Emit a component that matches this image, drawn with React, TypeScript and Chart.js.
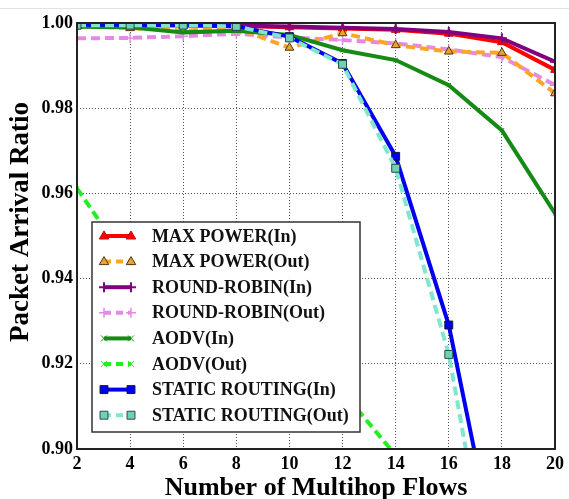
import React, { useEffect, useRef } from 'react';
import { Chart, registerables } from 'chart.js';

Chart.register(...registerables);

// ---------- data ----------
const flows = [2, 4, 6, 8, 10, 12, 14, 16, 18, 20];
const maxPowerIn = [0.9996, 0.9995, 0.9994, 0.9993, 0.999, 0.9987, 0.9984, 0.9975, 0.9955, 0.989];
const maxPowerOut = [0.9992, 0.9988, 0.9982, 0.9988, 0.9942, 0.9976, 0.9948, 0.9933, 0.993, 0.9835];
const roundRobinIn = [0.9997, 0.9996, 0.9995, 0.9994, 0.9992, 0.9989, 0.9986, 0.9979, 0.9964, 0.9909];
const roundRobinOut = [0.9964, 0.9965, 0.9969, 0.9975, 0.9966, 0.996, 0.9952, 0.9938, 0.992, 0.9854];
const aodvIn = [0.9991, 0.999, 0.9978, 0.9982, 0.9972, 0.9936, 0.9913, 0.9854, 0.9748, 0.9553];
const aodvOut = [0.9612, 0.943, 0.935, 0.927, 0.92, 0.9135, 0.8985, 0.88, 0.86, 0.84];
const staticIn = [0.9996, 0.9996, 0.9996, 0.9992, 0.9968, 0.9905, 0.9687, 0.9291, 0.868, 0.82];
const staticOut = [0.9995, 0.9995, 0.9995, 0.9992, 0.9965, 0.9903, 0.9659, 0.9222, 0.853, 0.8];

const seriesNames = [
  'MAX POWER(In)',
  'MAX POWER(Out)',
  'ROUND-ROBIN(In)',
  'ROUND-ROBIN(Out)',
  'AODV(In)',
  'AODV(Out)',
  'STATIC ROUTING(In)',
  'STATIC ROUTING(Out)',
];
const seriesValues = [maxPowerIn, maxPowerOut, roundRobinIn, roundRobinOut, aodvIn, aodvOut, staticIn, staticOut];

const xTitle = 'Number of Multihop Flows';
const yTitle = 'Packet Arrival Ratio';
const yMin = 0.9;
const yMax = 1.0;
const yStep = 0.02;
const xMin = 2;
const xMax = 20;
const xStep = 2;

// ---------- styles ----------
type Sty = {
  color: string;
  dash: number[];
  marker: 'triangle' | 'cross' | 'crossRot' | 'rect';
  radius: number;
  fill: string;
  stroke: string;
  mbw: number;
  order: number;
};
const styles: Sty[] = [
  { color: '#ff0000', dash: [], marker: 'triangle', radius: 5, fill: '#ff0000', stroke: '#cc0000', mbw: 1, order: 8 },
  { color: '#ffa526', dash: [9, 5], marker: 'triangle', radius: 5, fill: '#f0a030', stroke: '#4a3a10', mbw: 1, order: 5 },
  { color: '#800080', dash: [], marker: 'cross', radius: 5, fill: '#800080', stroke: '#800080', mbw: 2, order: 7 },
  { color: '#e48ae4', dash: [9, 5], marker: 'cross', radius: 5, fill: '#e48ae4', stroke: '#e48ae4', mbw: 1.5, order: 6 },
  { color: '#158a15', dash: [], marker: 'crossRot', radius: 3, fill: '#158a15', stroke: '#158a15', mbw: 1, order: 4 },
  { color: '#22ee22', dash: [9, 5], marker: 'crossRot', radius: 3, fill: '#22ee22', stroke: '#22ee22', mbw: 1, order: 3 },
  { color: '#0000ee', dash: [], marker: 'rect', radius: 5.6, fill: '#0000ee', stroke: '#101840', mbw: 1, order: 2 },
  { color: '#80e6d0', dash: [9, 5], marker: 'rect', radius: 5.6, fill: '#6fd2b8', stroke: '#2c4a46', mbw: 1, order: 1 },
];

const FONT = '"Liberation Serif", "Times New Roman", serif';

function drawMarker(ctx: CanvasRenderingContext2D, s: Sty, x: number, y: number) {
  ctx.save();
  ctx.setLineDash([]);
  ctx.fillStyle = s.fill;
  ctx.strokeStyle = s.stroke;
  ctx.lineWidth = s.mbw;
  const r = s.radius;
  ctx.beginPath();
  if (s.marker === 'triangle') {
    ctx.moveTo(x, y - r);
    ctx.lineTo(x + r * 0.95, y + r * 0.6);
    ctx.lineTo(x - r * 0.95, y + r * 0.6);
    ctx.closePath();
    ctx.fill();
    ctx.stroke();
  } else if (s.marker === 'rect') {
    const h = r * Math.SQRT1_2;
    ctx.rect(x - h, y - h, 2 * h, 2 * h);
    ctx.fill();
    ctx.stroke();
  } else if (s.marker === 'cross') {
    ctx.moveTo(x - r, y);
    ctx.lineTo(x + r, y);
    ctx.moveTo(x, y - r);
    ctx.lineTo(x, y + r);
    ctx.stroke();
  } else {
    ctx.moveTo(x - r, y - r);
    ctx.lineTo(x + r, y + r);
    ctx.moveTo(x + r, y - r);
    ctx.lineTo(x - r, y + r);
    ctx.stroke();
  }
  ctx.restore();
}

const framePlugin = {
  id: 'frame',
  afterDatasetsDraw(chart: any) {
    const { ctx, chartArea: a } = chart;
    ctx.save();
    ctx.strokeStyle = '#222';
    ctx.lineWidth = 2;
    ctx.setLineDash([]);
    ctx.strokeRect(a.left, a.top, a.right - a.left, a.bottom - a.top);
    ctx.restore();
  },
  afterDraw(chart: any) {
    const { ctx, chartArea: a } = chart;
    ctx.save();
    // faint top rule
    ctx.strokeStyle = '#e2e2e2';
    ctx.lineWidth = 1;
    ctx.beginPath();
    ctx.moveTo(0, 8.5);
    ctx.lineTo(chart.width, 8.5);
    ctx.stroke();

    // axis titles
    ctx.fillStyle = '#000';
    ctx.textAlign = 'center';
    ctx.textBaseline = 'middle';
    ctx.font = `bold 26px ${FONT}`;
    ctx.fillText(xTitle, (a.left + a.right) / 2, 488);
    ctx.save();
    ctx.translate(21, 222);
    ctx.rotate(-Math.PI / 2);
    ctx.font = `bold 27px ${FONT}`;
    ctx.fillText(yTitle, 0, 0);
    ctx.restore();

    // legend
    const bx = 92, by = 222, bw = 268, bh = 210;
    ctx.fillStyle = '#fff';
    ctx.fillRect(bx, by, bw, bh);
    ctx.strokeStyle = '#333';
    ctx.lineWidth = 1.5;
    ctx.strokeRect(bx, by, bw, bh);
    const x0 = 104, x1 = 131, tx = 152;
    seriesNames.forEach((name, i) => {
      const s = styles[i];
      const y = 236 + i * 25.6;
      ctx.save();
      ctx.strokeStyle = s.color;
      ctx.lineWidth = 4;
      ctx.setLineDash(s.dash.length ? [7, 5] : []);
      ctx.beginPath();
      ctx.moveTo(x0, y);
      ctx.lineTo(x1, y);
      ctx.stroke();
      ctx.restore();
      drawMarker(ctx, s, x0, y);
      drawMarker(ctx, s, x1, y);
      ctx.fillStyle = '#111';
      ctx.textAlign = 'left';
      ctx.textBaseline = 'middle';
      ctx.font = `bold 18px ${FONT}`;
      ctx.fillText(name, tx, y + 1);
    });
    ctx.restore();
  },
};

export default function App() {
  const ref = useRef<HTMLCanvasElement | null>(null);
  useEffect(() => {
    if (!ref.current) return;
    const datasets = seriesNames.map((name, i) => {
      const s = styles[i];
      return {
        label: name,
        data: flows.map((x, j) => ({ x, y: seriesValues[i][j] })),
        borderColor: s.color,
        backgroundColor: s.color,
        borderWidth: 4,
        borderDash: s.dash,
        tension: 0,
        fill: false,
        order: s.order,
        pointStyle: s.marker,
        pointRadius: s.radius,
        pointBackgroundColor: s.fill,
        pointBorderColor: s.stroke,
        pointBorderWidth: s.mbw,
        clip: 0,
      };
    });
    const chart = new Chart(ref.current, {
      type: 'line',
      data: { datasets },
      options: {
        animation: false,
        responsive: false,
        maintainAspectRatio: false,
        layout: { padding: { top: 23, right: 9, bottom: 0, left: 0 } },
        plugins: { legend: { display: false }, tooltip: { enabled: false }, title: { display: false } },
        scales: {
          x: {
            type: 'linear',
            min: xMin,
            max: xMax,
            ticks: {
              stepSize: xStep,
              color: '#000',
              padding: 5,
              font: { family: FONT, size: 18, weight: 'bold' },
            },
            grid: { color: '#555', lineWidth: 1, drawTicks: false },
            border: { display: false, dash: [1, 2] },
            afterFit: (scale: any) => {
              scale.height = 50;
            },
          },
          y: {
            type: 'linear',
            min: yMin,
            max: yMax,
            ticks: {
              stepSize: yStep,
              color: '#000',
              padding: 4,
              font: { family: FONT, size: 18, weight: 'bold' },
              callback: (v: any) => Number(v).toFixed(2),
            },
            grid: { color: '#555', lineWidth: 1, drawTicks: false },
            border: { display: false, dash: [1, 2] },
            afterFit: (scale: any) => {
              scale.width = 77;
            },
          },
        },
      },
      plugins: [framePlugin],
    });
    return () => chart.destroy();
  }, []);
  return (
    <div style={{ position: 'fixed', left: 0, top: 0, width: 569, height: 499, background: '#fff' }}>
      <canvas ref={ref} width={569} height={499} style={{ display: 'block' }} />
    </div>
  );
}
